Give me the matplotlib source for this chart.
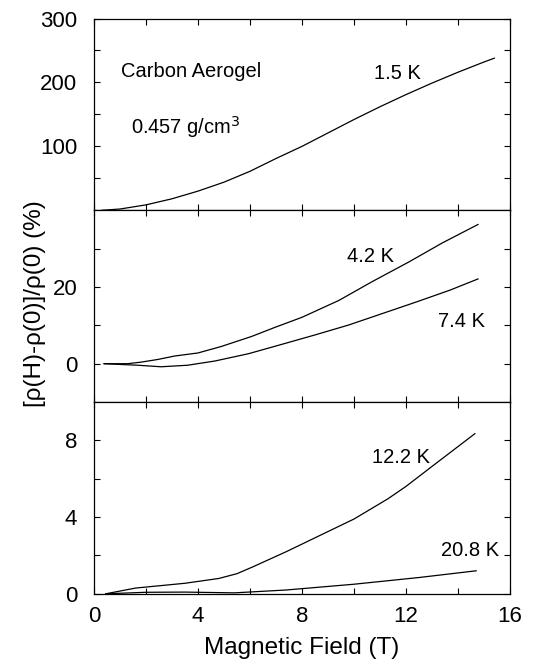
import matplotlib
matplotlib.use("Agg")
import matplotlib.pyplot as plt
from matplotlib.ticker import MultipleLocator, FixedLocator

plt.rcParams["font.family"] = ["Liberation Sans", "DejaVu Sans"]

# magnetoresistance: field (T), value (%)
h_15 = [0.3, 1, 2, 3, 4, 5, 6, 7, 8, 9, 10, 11, 12, 13, 14, 15, 15.4]
mr_15 = [0, 2, 8.5, 18, 30, 44, 61, 81, 100, 121, 142, 162, 181, 199, 216, 232, 238]

h_42 = [0.39, 1.29, 1.8, 2.45, 3.1, 4.0, 4.9, 6.06, 6.97, 8.0, 9.42, 10.7, 12.13, 13.4, 14.77]
mr_42 = [0, 0, 0.4, 1.1, 2.0, 2.8, 4.5, 7.1, 9.5, 12.1, 16.5, 21.4, 26.6, 31.5, 36.3]

h_74 = [0.39, 1.68, 2.58, 3.6, 4.65, 5.94, 7.2, 8.5, 9.8, 11.1, 12.4, 13.7, 14.77]
mr_74 = [0, -0.4, -0.8, -0.4, 0.7, 2.6, 5.0, 7.5, 10.1, 13.1, 16.1, 19.2, 22.1]

h_122 = [0.45, 1.6, 3.5, 4.8, 5.5, 6.1, 7.4, 8.7, 10.0, 11.3, 12.0, 13.2, 14.65]
mr_122 = [0, 0.3, 0.55, 0.8, 1.05, 1.4, 2.2, 3.05, 3.9, 4.95, 5.6, 6.85, 8.35]

h_208 = [0.45, 2, 3.5, 5.4, 7.4, 10, 12.5, 14.7]
mr_208 = [0, 0.08, 0.09, 0.05, 0.2, 0.5, 0.85, 1.2]


def style_axis(ax, ylim, major, minor):
    ax.set_xlim(0, 16)
    ax.set_ylim(*ylim)
    ax.xaxis.set_major_locator(MultipleLocator(4))
    ax.xaxis.set_minor_locator(MultipleLocator(2))
    ax.yaxis.set_major_locator(FixedLocator(major))
    ax.yaxis.set_minor_locator(FixedLocator(minor))
    ax.tick_params(which="both", direction="in", top=True, right=True,
                   length=4, width=0.8, labelsize=16, pad=12)
    ax.tick_params(axis="x", pad=9)
    for s in ax.spines.values():
        s.set_linewidth(0.9)


fig, axes = plt.subplots(3, 1, sharex=True, figsize=(5.34, 6.62), dpi=100)
fig.subplots_adjust(left=0.176, right=0.955, top=0.972, bottom=0.103, hspace=0)
ax1, ax2, ax3 = axes

lw = 0.9
ax1.plot(h_15, mr_15, color="black", lw=lw)
style_axis(ax1, (0, 300), [100, 200, 300], [50, 150, 250])
ax1.text(1.03, 208, "Carbon Aerogel", fontsize=14.5)
ax1.text(1.42, 119, "0.457 g/cm$^3$", fontsize=14.5)
ax1.text(10.77, 206, "1.5 K", fontsize=14.5)

ax2.plot(h_42, mr_42, color="black", lw=lw)
ax2.plot(h_74, mr_74, color="black", lw=lw)
style_axis(ax2, (-10, 40), [0, 20], [10, 30])
ax2.text(9.74, 26.6, "4.2 K", fontsize=14.5)
ax2.text(13.22, 9.5, "7.4 K", fontsize=14.5)

ax3.plot(h_122, mr_122, color="black", lw=lw)
ax3.plot(h_208, mr_208, color="black", lw=lw)
style_axis(ax3, (0, 10), [0, 4, 8], [2, 6])
ax3.text(10.7, 6.81, "12.2 K", fontsize=14.5)
ax3.text(13.35, 1.98, "20.8 K", fontsize=14.5)

ax3.set_xlabel("Magnetic Field (T)", fontsize=17.5, labelpad=7)
fig.text(35 / 534, 1 - 304 / 662, "[ρ(H)-ρ(0)]/ρ(0) (%)", rotation=90,
         fontsize=17.5, ha="center", va="center")

fig.savefig("out.png", dpi=100)
